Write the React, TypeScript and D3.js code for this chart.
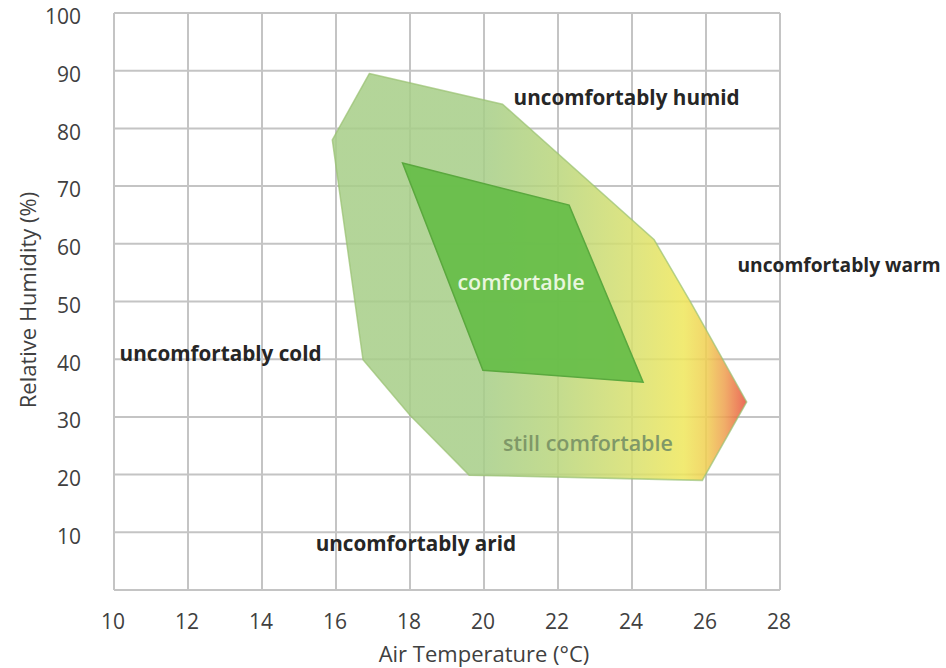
import React from "react";
import * as d3 from "d3";

// comfort zones, [air temperature °C, relative humidity %]
const stillComfortable: [number, number][] = [
  [16.9, 89.5],
  [20.5, 84.2],
  [24.6, 60.7],
  [25.6, 49.7],
  [27.1, 32.6],
  [25.9, 19.0],
  [19.6, 19.9],
  [18.0, 30.3],
  [16.73, 39.9],
  [15.9, 78.0],
];

const comfortable: [number, number][] = [
  [17.8, 74.0],
  [22.3, 66.7],
  [24.3, 36.0],
  [19.97, 38.1],
];

const xTicks = [10, 12, 14, 16, 18, 20, 22, 24, 26, 28];
const yTicks = [10, 20, 30, 40, 50, 60, 70, 80, 90, 100];

// zone labels: text, anchor point in data units
const zoneLabels = [
  { text: "uncomfortably humid", t: 20.8, h: 85.3 },
  { text: "uncomfortably warm", t: 26.85, h: 56.2 },
  { text: "uncomfortably cold", t: 10.15, h: 41.0 },
  { text: "uncomfortably arid", t: 15.45, h: 8.0 },
];

// warm gradient across the outer zone (temperature -> colour)
const warmStops: [number, string][] = [
  [20, "#a7ce88"],
  [22, "#bad67c"],
  [24, "#d8e06e"],
  [25.4, "#efe75c"],
  [26.0, "#f0d052"],
  [26.5, "#eea150"],
  [27.1, "#e8523e"],
];

const WIDTH = 946;
const HEIGHT = 668;
const FONT = "'Open Sans', 'DejaVu Sans', sans-serif";

export default function App() {
  const x = d3.scaleLinear().domain([10, 28]).range([114, 780]);
  const y = d3.scaleLinear().domain([0, 100]).range([590, 13]);

  const line = d3
    .line<[number, number]>()
    .x((d) => x(d[0]))
    .y((d) => y(d[1]))
    .curve(d3.curveLinearClosed);

  const g0 = warmStops[0][0];
  const g1 = warmStops[warmStops.length - 1][0];

  return (
    <svg
      width={WIDTH}
      height={HEIGHT}
      style={{ position: "absolute", left: 0, top: 0, background: "#fff" }}
      fontFamily={FONT}
    >
      <defs>
        <linearGradient
          id="warm"
          gradientUnits="userSpaceOnUse"
          x1={x(g0)}
          x2={x(g1)}
          y1={0}
          y2={0}
        >
          {warmStops.map(([t, c]) => (
            <stop key={t} offset={(t - g0) / (g1 - g0)} stopColor={c} />
          ))}
        </linearGradient>
      </defs>

      {/* grid */}
      <g stroke="#c4c4c4" strokeWidth={2}>
        {xTicks.map((t) => (
          <line key={"vx" + t} x1={x(t)} x2={x(t)} y1={y(0)} y2={y(100)} />
        ))}
        {[0, ...yTicks].map((t) => (
          <line key={"hy" + t} x1={x(10)} x2={x(28)} y1={y(t)} y2={y(t)} />
        ))}
      </g>

      {/* zones */}
      <path
        d={line(stillComfortable) || ""}
        fill="url(#warm)"
        fillOpacity={0.86}
        stroke="#98c070"
        strokeOpacity={0.7}
        strokeWidth={1.5}
      />
      <path
        d={line(comfortable) || ""}
        fill="#66bd48"
        fillOpacity={0.93}
        stroke="#5aa83e"
        strokeWidth={1.5}
      />

      {/* tick labels */}
      <g fill="#404040" fontSize={21}>
        {xTicks.map((t) => (
          <text key={"xt" + t} x={x(t) - 1} y={622} textAnchor="middle" dy="0.35em">
            {t}
          </text>
        ))}
        {yTicks.map((t) => (
          <text key={"yt" + t} x={81} y={y(t) + 4} textAnchor="end" dy="0.35em">
            {t}
          </text>
        ))}
      </g>

      {/* axis titles */}
      <text x={484} y={654} textAnchor="middle" dy="0.35em" fontSize={22} fill="#404040">
        Air Temperature (°C)
      </text>
      <text
        transform={`translate(28,300) rotate(-90)`}
        textAnchor="middle"
        dy="0.35em"
        fontSize={22}
        fill="#404040"
      >
        Relative Humidity (%)
      </text>

      {/* zone labels; the warm one must fit before the right edge */}
      <g fontWeight={700} fontSize={20.7} fill="#262626">
        {zoneLabels.map((l) => {
          const right = l.text.includes("warm");
          return (
            <text
              key={l.text}
              x={x(l.t)}
              y={y(l.h)}
              dy="0.35em"
              fontSize={right ? 19.2 : undefined}
            >
              {l.text}
            </text>
          );
        })}
      </g>
      <text
        x={521}
        y={282}
        textAnchor="middle"
        dy="0.35em"
        fontSize={21.5}
        fontWeight={600}
        fill="#e8f6de"
      >
        comfortable
      </text>
      <text
        x={588}
        y={443}
        textAnchor="middle"
        dy="0.35em"
        fontSize={21.5}
        fontWeight={600}
        fill="#7f9868"
      >
        still comfortable
      </text>
    </svg>
  );
}
